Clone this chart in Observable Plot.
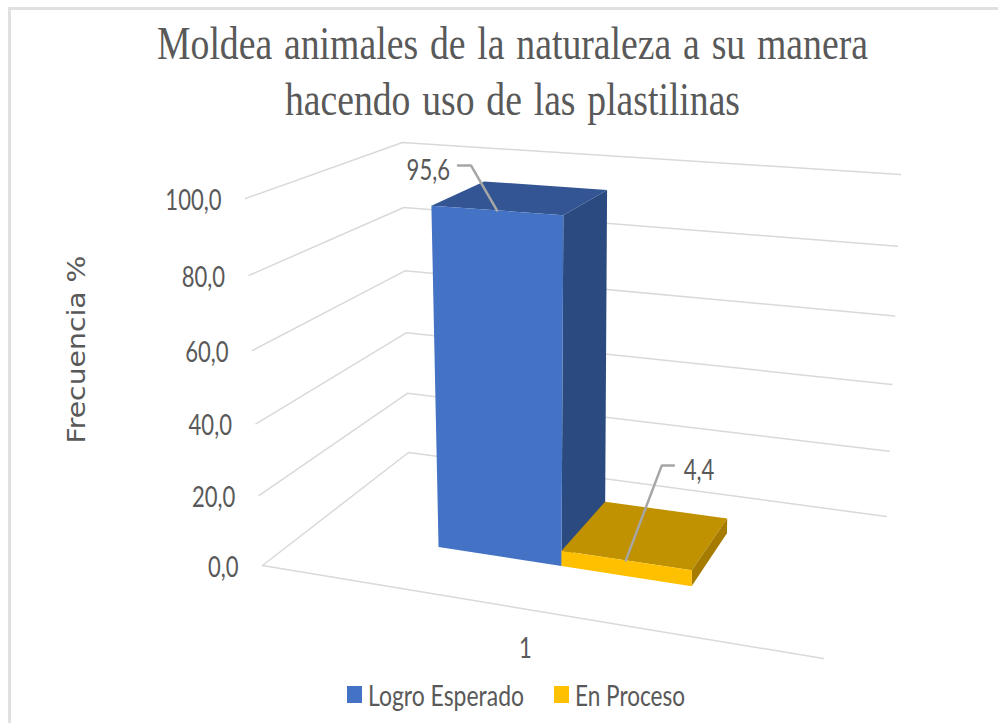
<!DOCTYPE html>
<html lang="es">
<head>
<meta charset="utf-8">
<script src="https://cdn.jsdelivr.net/npm/d3@7"></script>
<script src="https://cdn.jsdelivr.net/npm/@observablehq/plot@0.6"></script>
<style>
  html, body { margin: 0; padding: 0; background: #fff; overflow: hidden; }
  #frame { position: relative; width: 998px; height: 723px; overflow: hidden; }
  #frame .edge { position: absolute; background: #e0e0e0; }
  #title { position: relative; height: 128px; }
  #title span { position: absolute; white-space: nowrap; font-family: "Liberation Serif", serif; font-size: 47px; line-height: 47px; color: #595959; word-spacing: 3px; transform-origin: 0 0; }
  #chart svg { display: block; }
  #legend { position: relative; height: 43px; }
  #legend i { position: absolute; display: block; width: 15px; height: 17px; top: 6px; }
  #legend span { position: absolute; top: -2px; white-space: nowrap; font-family: Lato, sans-serif; font-size: 28px; line-height: 34px; color: #595959; transform-origin: 0 0; }
</style>
</head>
<body>
<div id="frame">
  <div class="edge" style="left:8px;top:7px;width:990px;height:3px"></div>
  <div class="edge" style="left:8px;top:7px;width:3px;height:716px"></div>
  <div id="title"></div>
  <div id="chart"></div>
  <div id="legend"></div>
</div>
<script>
// ---- data ----
const titleLines = ["Moldea animales de la naturaleza a su manera", "hacendo uso de las plastilinas"];
const yAxisTitle = "Frecuencia %";
const category = "1";
const seriesNames = ["Logro Esperado", "En Proceso"];
const seriesValues = [95.6, 4.4];
const seriesLabels = ["95,6", "4,4"];
const tickValues = [0, 20, 40, 60, 80, 100];
const tickLabels = ["0,0", "20,0", "40,0", "60,0", "80,0", "100,0"];

// ---- styles ----
const palette = [
  {front: "#4472c4", top: "#335593", side: "#2b4a80"},
  {front: "#ffc000", top: "#c09100", side: "#a67c00"}
];
const inkColor = "#595959", gridColor = "#d9d9d9", leaderColor = "#a6a6a6";

// ---- perspective of the 3D box: screen anchors of its floor and ceiling ----
function homography([p0, p1, p2, p3]) {
  const dx1 = p1[0] - p2[0], dx2 = p3[0] - p2[0], sx = p0[0] - p1[0] + p2[0] - p3[0];
  const dy1 = p1[1] - p2[1], dy2 = p3[1] - p2[1], sy = p0[1] - p1[1] + p2[1] - p3[1];
  const den = dx1 * dy2 - dx2 * dy1;
  const g = (sx * dy2 - dx2 * sy) / den, h = (dx1 * sy - sx * dy1) / den;
  const a = p1[0] - p0[0] + g * p1[0], b = p3[0] - p0[0] + h * p3[0];
  const d = p1[1] - p0[1] + g * p1[1], e = p3[1] - p0[1] + h * p3[1];
  return (u, v) => {
    const w = g * u + h * v + 1;
    return [(a * u + b * v + p0[0]) / w, (d * u + e * v + p0[1]) / w];
  };
}
const floorMap = homography([[262, 565], [823, 658], [886, 516], [408, 452]]);
const wallTopMap = homography([[245, 198], [842, 240], [900, 174], [402, 142]]);
const barTopMap = homography([[236, 198], [833, 240], [891, 174], [393, 142]]);
const zWarp = z => { const t = z / 100; return t / (t + 1.06 * (1 - t)); };
function project(u, v, z, topMap = wallTopMap) {
  const [x0, y0] = floorMap(u, v), [x1, y1] = topMap(u, v), t = zWarp(z);
  return {x: x0 + (x1 - x0) * t, y: y0 + (y1 - y0) * t};
}

// ---- bar geometry in box units ----
const band = 0.238, bandStart = 0.26, depthFront = 0.3, depthBack = 0.7;
const bar = i => ({u0: bandStart + i * band, u1: bandStart + (i + 1) * band});

const faces = [];
seriesValues.forEach((val, i) => {
  const {u0, u1} = bar(i), P = (u, v, z) => project(u, v, z, barTopMap);
  faces.push({fill: palette[i].top, pts: [P(u0, depthFront, val), P(u1, depthFront, val), P(u1, depthBack, val), P(u0, depthBack, val)]});
  faces.push({fill: palette[i].side, pts: [P(u1, depthFront, 0), P(u1, depthBack, 0), P(u1, depthBack, val), P(u1, depthFront, val)]});
  faces.push({fill: palette[i].front, pts: [P(u0, depthFront, 0), P(u1, depthFront, 0), P(u1, depthFront, val), P(u0, depthFront, val)]});
});

// gridlines run over left wall and back wall
const gridRows = tickValues.flatMap(t => [[0, 0], [0, 1], [1, 1]].map(([u, v]) => ({tick: t, ...project(u, v, t)})));
const frontEdge = [project(0, 0, 0), project(1, 0, 0)];
const tickRows = tickValues.map((t, i) => ({label: tickLabels[i], ...project(0, 0, t)}));

// callouts: a leader from the middle of the bar's front top edge to its label
const calloutOffsets = [{elbow: [-26, -45], tail: [-39, -45], textDx: -8, anchor: "end"}, {elbow: [36, -95], tail: [48, -95], textDx: 10, anchor: "start"}];
const callouts = seriesValues.map((val, i) => {
  const {u0, u1} = bar(i), o = calloutOffsets[i];
  const a = project((u0 + u1) / 2, depthFront, val, barTopMap);
  const elbow = {x: a.x + o.elbow[0], y: a.y + o.elbow[1]}, tail = {x: a.x + o.tail[0], y: a.y + o.tail[1]};
  return {pts: [a, elbow, tail], tail, label: seriesLabels[i], textDx: o.textDx, anchor: o.anchor};
});

const sans = "Lato, sans-serif";
const svg = Plot.plot({
  width: 998,
  height: 552,
  margin: 0,
  x: {domain: [0, 998], range: [0, 998], axis: null},
  y: {domain: [128, 680], range: [0, 552], axis: null},
  marks: [
    Plot.line(gridRows, {x: "x", y: "y", z: "tick", stroke: gridColor, strokeWidth: 1.5, curve: "linear"}),
    Plot.line(frontEdge, {x: "x", y: "y", stroke: gridColor, strokeWidth: 1.5}),
    ...faces.map(f => Plot.line(f.pts, {x: "x", y: "y", fill: f.fill, stroke: "none", curve: "linear-closed"})),
    ...callouts.map(c => Plot.line(c.pts, {x: "x", y: "y", stroke: leaderColor, strokeWidth: 2.5, strokeLinejoin: "miter", curve: "linear"})),
    ...callouts.map(c => Plot.text([c], {x: d => d.tail.x, y: d => d.tail.y, text: "label", dx: c.textDx, dy: 5, textAnchor: c.anchor, fontFamily: sans, fontSize: 29, fill: inkColor, className: "narrow"})),
    Plot.text(tickRows, {x: "x", y: "y", text: "label", dx: -24, dy: 2, textAnchor: "end", fontFamily: sans, fontSize: 29, fill: inkColor, className: "narrow"}),
    Plot.text([category], {x: () => project(0.5, 0, 0).x, y: () => project(0.5, 0, 0).y, text: d => d, dy: 40, fontFamily: sans, fontSize: 29, fill: inkColor, className: "narrow"}),
    Plot.text([yAxisTitle], {x: () => 76, y: () => 349, text: d => d, rotate: -90, fontFamily: "DejaVu Sans, sans-serif", fontSize: 25, fill: inkColor, className: "ytitle"})
  ]
});
document.getElementById("chart").append(svg);

// condensed look of the original lettering
d3.select(svg).selectAll(".narrow text").each(function() {
  this.setAttribute("textLength", this.getComputedTextLength() * 0.76);
  this.setAttribute("lengthAdjust", "spacingAndGlyphs");
});
d3.select(svg).selectAll(".ytitle text").attr("textLength", 188).attr("lengthAdjust", "spacingAndGlyphs");

// title and legend, fitted to the widths seen in the picture
function fit(el, width) { el.style.transform = `scaleX(${width / el.getBoundingClientRect().width})`; }
const titleBox = document.getElementById("title");
[[157, 20, 711], [285, 76, 455]].forEach(([left, top, w], i) => {
  const s = document.createElement("span");
  s.textContent = titleLines[i];
  s.style.left = left + "px"; s.style.top = top + "px";
  titleBox.append(s); fit(s, w);
});
const legendBox = document.getElementById("legend");
[[347, 368, 156], [554, 575, 110]].forEach(([sw, left, w], i) => {
  const k = document.createElement("i");
  k.style.left = sw + "px"; k.style.background = palette[i].front;
  const s = document.createElement("span");
  s.textContent = seriesNames[i]; s.style.left = left + "px";
  legendBox.append(k, s); fit(s, w);
});
</script>
</body>
</html>
